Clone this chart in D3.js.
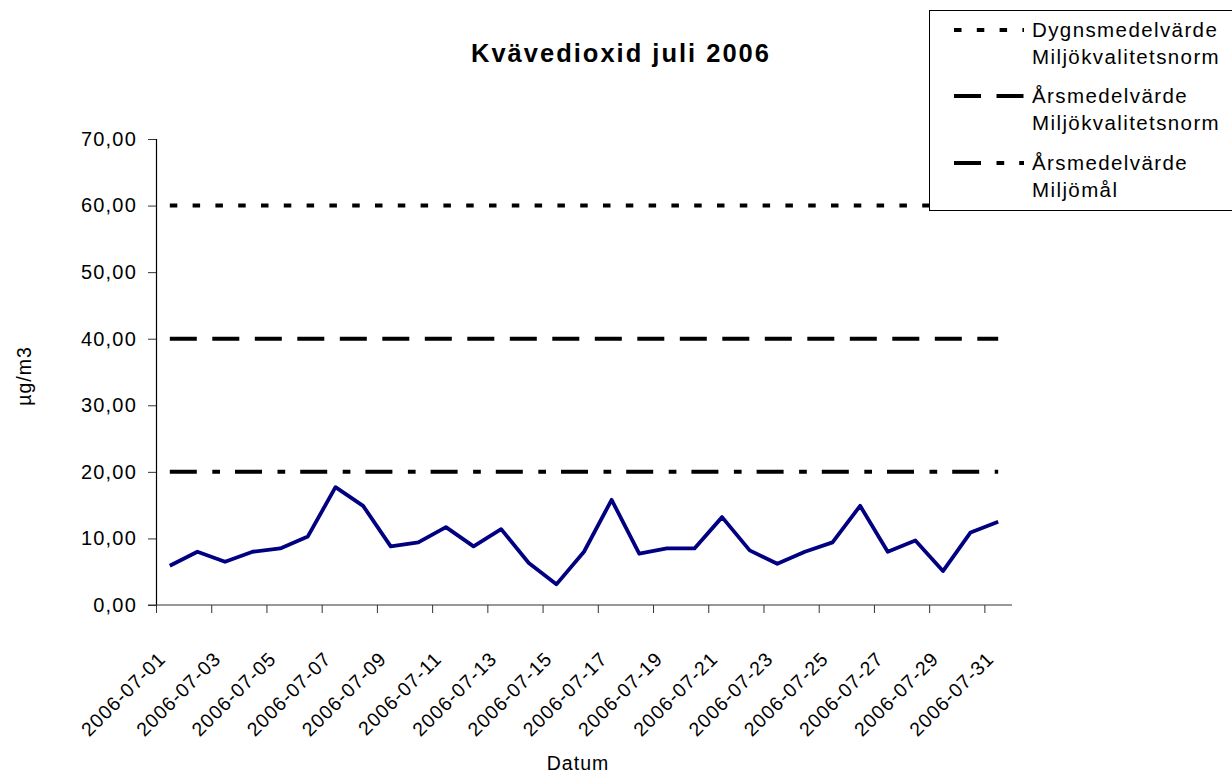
<!DOCTYPE html>
<html>
<head>
<meta charset="utf-8">
<script src="https://cdn.jsdelivr.net/npm/d3@7"></script>
<style>
  html, body { margin: 0; padding: 0; background: #fff; }
  svg { display: block; }
  text { font-family: "Liberation Sans", Arial, sans-serif; fill: #000; }
</style>
</head>
<body>
<svg id="chart" width="1232" height="775"></svg>
<script>
// ---- data ----
const days = ["2006-07-01","2006-07-02","2006-07-03","2006-07-04","2006-07-05","2006-07-06","2006-07-07","2006-07-08","2006-07-09","2006-07-10","2006-07-11","2006-07-12","2006-07-13","2006-07-14","2006-07-15","2006-07-16","2006-07-17","2006-07-18","2006-07-19","2006-07-20","2006-07-21","2006-07-22","2006-07-23","2006-07-24","2006-07-25","2006-07-26","2006-07-27","2006-07-28","2006-07-29","2006-07-30","2006-07-31"];
const no2 = [5.9, 8.0, 6.5, 8.0, 8.5, 10.3, 17.7, 14.9, 8.8, 9.4, 11.7, 8.8, 11.4, 6.3, 3.1, 8.0, 15.8, 7.7, 8.5, 8.5, 13.2, 8.2, 6.2, 8.0, 9.4, 14.9, 8.0, 9.7, 5.1, 10.9, 12.5];
const refNames = [["Dygnsmedelvärde", "Miljökvalitetsnorm"], ["Årsmedelvärde", "Miljökvalitetsnorm"], ["Årsmedelvärde", "Miljömål"]];
const refValues = [60, 40, 20];
const yTicks = [0, 10, 20, 30, 40, 50, 60, 70];
const xLabelDays = days.filter((d, i) => i % 2 === 0);
const chartTitle = "Kvävedioxid juli 2006";
const yTitle = "µg/m3";
const xTitle = "Datum";

// ---- layout ----
const svg = d3.select("#chart");
const pL = 156, pR = 1012, pT = 139, pB = 605;
const dashes = ["7.5,15.3", "27,15.5", "27,15.5,7.7,15"];
const FF = '"Liberation Sans", Arial, sans-serif';

const x = d3.scaleBand().domain(days).range([pL, pR]);
const y = d3.scaleLinear().domain([0, 70]).range([pB, pT]);
const cx = d => x(d) + x.bandwidth() / 2;

// title
svg.append("text").attr("x", 621).attr("y", 62).attr("text-anchor", "middle")
  .style("font-size", "25.5px").style("font-weight", "bold").style("letter-spacing", "2px")
  .text(chartTitle);

// y axis
const yAxis = svg.append("g").attr("transform", `translate(${pL},0)`)
  .call(d3.axisLeft(y).tickValues(yTicks).tickSize(8).tickPadding(11)
    .tickFormat(d => d.toFixed(2).replace(".", ",")));
yAxis.select(".domain").attr("stroke", "#000").attr("stroke-width", 1.2);
yAxis.selectAll(".tick line").attr("stroke", "#333");
yAxis.selectAll(".tick text").style("font-size", "20px").style("letter-spacing", "1.2px")
  .style("font-family", FF).attr("fill", "#000");

// x axis ticks at category boundaries
const xTickScale = d3.scalePoint().domain(xLabelDays).range([x(xLabelDays[0]), x(xLabelDays[xLabelDays.length - 1])]);
const xAxis = svg.append("g").attr("transform", `translate(0,${pB})`)
  .call(d3.axisBottom(xTickScale).tickSize(8).tickFormat(""));
xAxis.select(".domain").remove();
xAxis.selectAll(".tick line").attr("stroke", "#333");
svg.append("line").attr("x1", pL - 8).attr("x2", pR).attr("y1", pB).attr("y2", pB)
  .attr("stroke", "#333").attr("stroke-width", 1.2);

// x labels
const xLab = svg.append("g").attr("transform", `translate(0,${pB})`)
  .call(d3.axisBottom(x).tickValues(xLabelDays).tickSize(0).tickFormat(d => d));
xLab.select(".domain").remove();
xLab.selectAll(".tick text")
  .style("font-size", "19.5px").style("letter-spacing", "1px")
  .style("font-family", FF).attr("fill", "#000")
  .attr("text-anchor", "end").attr("dy", null).attr("y", 0)
  .attr("transform", "translate(-3,55) rotate(-45)");

// axis titles
svg.append("text").attr("transform", "translate(31,376) rotate(-90)").attr("text-anchor", "middle")
  .style("font-size", "19.5px").style("letter-spacing", "1px").text(yTitle);
svg.append("text").attr("x", 578).attr("y", 770).attr("text-anchor", "middle")
  .style("font-size", "19.5px").style("letter-spacing", "1px").text(xTitle);

// reference lines
refValues.forEach((v, i) => {
  svg.append("path")
    .datum(days.map(d => ({ d, v })))
    .attr("fill", "none").attr("stroke", "#000").attr("stroke-width", 4)
    .attr("stroke-dasharray", dashes[i])
    .attr("d", d3.line().x(p => cx(p.d)).y(p => y(p.v)));
});

// data line
svg.append("path")
  .datum(days.map((d, i) => ({ d, v: no2[i] })))
  .attr("fill", "none").attr("stroke", "#000080").attr("stroke-width", 3.8)
  .attr("stroke-linejoin", "round")
  .attr("d", d3.line().x(p => cx(p.d)).y(p => y(p.v)));

// legend
const lg = svg.append("g");
lg.append("rect").attr("x", 929.5).attr("y", 10.5).attr("width", 320).attr("height", 200)
  .attr("fill", "#fff").attr("stroke", "#000").attr("stroke-width", 1);
const itemY = [30, 96, 163];
refNames.forEach((names, i) => {
  lg.append("line").attr("x1", 954).attr("x2", 1024).attr("y1", itemY[i]).attr("y2", itemY[i])
    .attr("stroke", "#000").attr("stroke-width", 4).attr("stroke-dasharray", dashes[i]);
  names.forEach((t, j) => {
    lg.append("text").attr("x", 1032).attr("y", itemY[i] + j * 27 + 7)
      .style("font-size", "20.5px").style("letter-spacing", "1.4px").text(t);
  });
});
</script>
</body>
</html>
